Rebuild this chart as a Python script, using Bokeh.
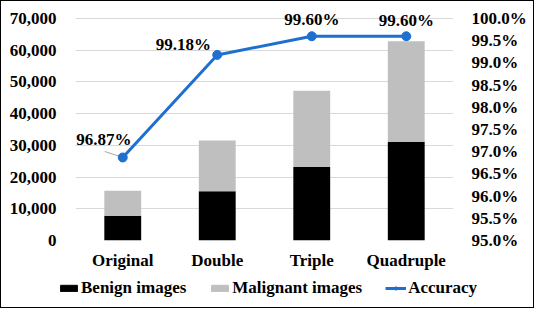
from bokeh.plotting import figure
from bokeh.models import (ColumnDataSource, Range1d, LinearAxis, NumeralTickFormatter,
                          Legend, LegendItem, LabelSet, FixedTicker, FactorRange)
from bokeh.core.properties import value
from bokeh.embed import file_html
from bokeh.resources import INLINE

categories = ["Original", "Double", "Triple", "Quadruple"]
benign = [7800, 15500, 23200, 31100]
malignant = [7900, 16000, 24000, 31700]
accuracy = [0.9687, 0.9918, 0.9960, 0.9960]
left_ticks = [0, 10000, 20000, 30000, 40000, 50000, 60000, 70000]
right_ticks = [0.95, 0.955, 0.96, 0.965, 0.97, 0.975, 0.98, 0.985, 0.99, 0.995, 1.0]
series_names = ["Benign images", "Malignant images", "Accuracy"]

FONT = "Liberation Serif"
BLUE = "#1f6fd1"
GREY = "#bfbfbf"
BORDER = "1.5px solid #000"

acc_labels = [f"{a*100:.2f}%" for a in accuracy]
label_dx = [-19, -34, 0, 0]
label_dy = [18, 10, 17, 16]

src = ColumnDataSource(dict(cat=categories, benign=benign, malignant=malignant,
                            acc=accuracy, lab=acc_labels, dx=label_dx, dy=label_dy))

FRAME_W, FRAME_H = 378, 232
# 10px of head room above the 70,000 / 100% gridline so the top labels are not clipped
HEAD = FRAME_H / 222
p = figure(x_range=FactorRange(*categories), y_range=Range1d(0, 70000 * HEAD),
           width=534, height=276, output_backend="svg", toolbar_location=None,
           min_border_left=74, min_border_right=82, min_border_top=7, min_border_bottom=37)
p.styles = {"border-top": BORDER, "border-left": BORDER, "border-right": BORDER}
p.outline_line_color = None
p.extra_y_ranges = {"acc": Range1d(0.95, 0.95 + 0.05 * HEAD)}

bars = p.vbar_stack(["benign", "malignant"], x="cat", width=0.39, color=["#000000", GREY],
                    line_color=None, source=src)

# short grey leader line from the first data label to its point
px_x = len(categories) / FRAME_W
px_y = 0.05 * HEAD / FRAME_H
i0 = 0
p.segment(x0=[i0 + 0.5 - 18 * px_x], y0=[accuracy[i0] + 6 * px_y],
          x1=[i0 + 0.5], y1=[accuracy[i0]], y_range_name="acc",
          line_color="#a6a6a6", line_width=1)

ln = p.line(x="cat", y="acc", y_range_name="acc", line_width=3, color=BLUE, source=src)
mk = p.scatter(x="cat", y="acc", y_range_name="acc", size=9, color=BLUE, source=src)

labels = LabelSet(x="cat", y="acc", y_range_name="acc", text="lab", source=src,
                  x_offset="dx", y_offset="dy", text_align="center", text_baseline="middle",
                  text_font=value(FONT), text_font_style="bold", text_font_size="17px",
                  text_color="#000")
p.add_layout(labels)

def style_axis(ax, standoff):
    ax.axis_line_color = None
    ax.major_tick_line_color = None
    ax.minor_tick_line_color = None
    ax.major_tick_in = 0
    ax.major_tick_out = 0
    ax.minor_tick_in = 0
    ax.minor_tick_out = 0
    ax.major_label_standoff = standoff
    ax.major_label_text_font = FONT
    ax.major_label_text_font_style = "bold"
    ax.major_label_text_font_size = "17px"
    ax.major_label_text_color = "#000"

p.yaxis.ticker = FixedTicker(ticks=left_ticks)
p.yaxis.formatter = NumeralTickFormatter(format="0,0")
style_axis(p.yaxis[0], 19)

rax = LinearAxis(y_range_name="acc", ticker=FixedTicker(ticks=right_ticks),
                 formatter=NumeralTickFormatter(format="0.0%"))
style_axis(rax, 18)
p.add_layout(rax, "right")

style_axis(p.xaxis[0], 10)

p.xgrid.grid_line_color = None
p.ygrid.grid_line_color = "#d9d9d9"
p.ygrid.grid_line_width = 1

# legend strip below the chart (its key glyphs sit outside the strip's visible range)
lf = figure(width=534, height=32, output_backend="svg", toolbar_location=None,
            x_range=Range1d(10, 11), y_range=Range1d(10, 11),
            x_axis_type=None, y_axis_type=None,
            min_border_left=0, min_border_right=0, min_border_top=0, min_border_bottom=0)
lf.styles = {"border-bottom": BORDER, "border-left": BORDER, "border-right": BORDER}
lf.outline_line_color = None
lf.grid.visible = False
k1 = lf.vbar(x="acc", top="acc", width=0.01, color="#000000", source=src)
k2 = lf.vbar(x="acc", top="acc", width=0.01, color=GREY, source=src)
k3 = lf.line(x="acc", y="acc", line_width=3, color=BLUE, source=src)
k4 = lf.scatter(x="acc", y="acc", size=9, color=BLUE, source=src)
legend = Legend(items=[LegendItem(label=series_names[0], renderers=[k1]),
                       LegendItem(label=series_names[1], renderers=[k2]),
                       LegendItem(label=series_names[2], renderers=[k3, k4])],
                orientation="horizontal", location=(57, 10),
                glyph_width=21, glyph_height=8, label_height=17, spacing=23,
                label_standoff=2, padding=0, margin=0,
                border_line_color=None, background_fill_alpha=0,
                label_text_font=FONT, label_text_font_style="bold",
                label_text_font_size="17px", label_text_color="#000")
lf.add_layout(legend, "center")

open("out.html", "w").write(file_html([p, lf], INLINE))
